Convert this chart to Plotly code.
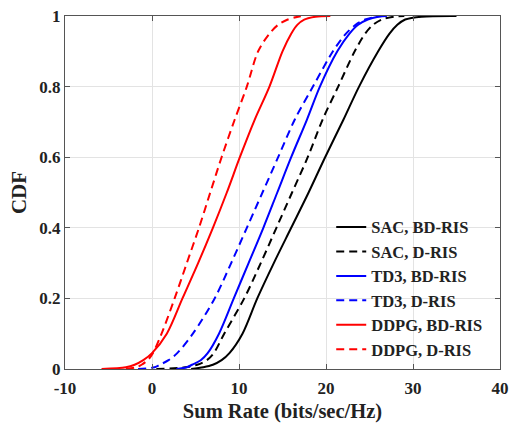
import plotly.graph_objects as go

# CDF levels shared by all curves
cdf_levels = [0, 0.005, 0.012, 0.025, 0.045, 0.1, 0.2, 0.3, 0.4, 0.5, 0.6, 0.706, 0.8, 0.9, 0.95, 0.975, 0.99, 0.998, 1.0]

# Sum-rate values (bits/sec/Hz) at each CDF level
sac_bd = [4.5, 5.9, 7.0, 8.0, 8.9, 10.4, 12.1, 14.0, 16.0, 18.0, 19.9, 22.0, 23.8, 26.0, 27.3, 28.2, 29.1, 31.0, 35.0]
sac_d = [0.5, 3.8, 5.2, 6.3, 7.1, 8.3, 10.6, 12.5, 14.3, 16.1, 17.9, 19.6, 21.4, 23.3, 24.5, 25.4, 26.4, 27.8, 29.0]
td3_bd = [2.8, 4.0, 4.6, 5.6, 6.4, 7.7, 9.4, 11.1, 12.8, 14.4, 16.0, 17.8, 19.3, 21.3, 22.7, 23.7, 24.8, 26.0, 27.0]
td3_d = [-1.6, 0.3, 0.9, 1.9, 2.9, 4.7, 7.2, 9.1, 10.9, 12.7, 14.5, 16.4, 18.5, 20.8, 22.3, 23.4, 24.5, 25.8, 26.5]
ddpg_bd = [-5.8, -3.0, -2.0, -1.0, 0.0, 1.7, 3.5, 5.3, 7.0, 8.6, 10.1, 11.8, 13.5, 15.0, 16.0, 16.7, 17.5, 18.8, 20.5]
ddpg_d = [-3.0, -1.8, -1.2, -0.5, 0.1, 1.1, 2.6, 4.0, 5.4, 6.7, 8.0, 9.5, 10.9, 12.2, 13.5, 14.5, 15.6, 16.8, 17.5]

series_names = ["SAC, BD-RIS", "SAC, D-RIS", "TD3, BD-RIS", "TD3, D-RIS", "DDPG, BD-RIS", "DDPG, D-RIS"]
series_values = [sac_bd, sac_d, td3_bd, td3_d, ddpg_bd, ddpg_d]
series_colors = ["#000000", "#000000", "#0000FF", "#0000FF", "#FF0000", "#FF0000"]
series_dash = ["solid", "8px,5px", "solid", "8px,5px", "solid", "8px,5px"]

x_ticks = [-10, 0, 10, 20, 30, 40]
y_ticks = [0, 0.2, 0.4, 0.6, 0.8, 1]
y_tick_labels = ["0", "0.2", "0.4", "0.6", "0.8", "1"]

fig = go.Figure()
for name, vals, col, dsh in zip(series_names, series_values, series_colors, series_dash):
    fig.add_trace(go.Scatter(
        x=vals, y=cdf_levels, mode="lines", name="<b>%s</b>" % name,
        line=dict(color=col, width=2, dash=dsh, shape="spline", smoothing=0.9),
    ))

font_family = "Liberation Serif"
axis_common = dict(
    showline=True, linecolor="#555555", linewidth=1, mirror="ticks",
    ticks="inside", ticklen=5, tickcolor="#555555",
    showgrid=True, gridcolor="#E3E3E3", gridwidth=1, zeroline=False,
    automargin=False, ticklabeloverflow="allow",
    tickfont=dict(family=font_family, size=17, color="#222222"),
)

fig.update_layout(
    width=511, height=424,
    paper_bgcolor="white", plot_bgcolor="white",
    margin=dict(l=65, r=11, t=16, b=55),
    font=dict(family=font_family, color="#222222"),
    xaxis=dict(range=[-10, 40], tickvals=x_ticks, ticktext=["<b>%d</b>" % v for v in x_ticks],
               ticklabelstandoff=4,
               title=dict(text="<b>Sum Rate (bits/sec/Hz)</b>", font=dict(family=font_family, size=20.5), standoff=6),
               **axis_common),
    yaxis=dict(range=[0, 1], tickvals=y_ticks, ticktext=["<b>%s</b>" % t for t in y_tick_labels],
               title=dict(text="<b>CDF</b>", font=dict(family=font_family, size=21), standoff=6),
               **axis_common),
    legend=dict(x=0.612, y=0.451, xanchor="left", yanchor="top",
                bgcolor="rgba(255,255,255,0)", borderwidth=0,
                font=dict(family=font_family, size=16.5, color="#222222")),
    showlegend=True,
)

# remove the browser's default 8px page margin so the figure fills the window exactly
fig.write_html("out.html", config={"displayModeBar": False},
               post_script="document.body.style.margin='0';")
